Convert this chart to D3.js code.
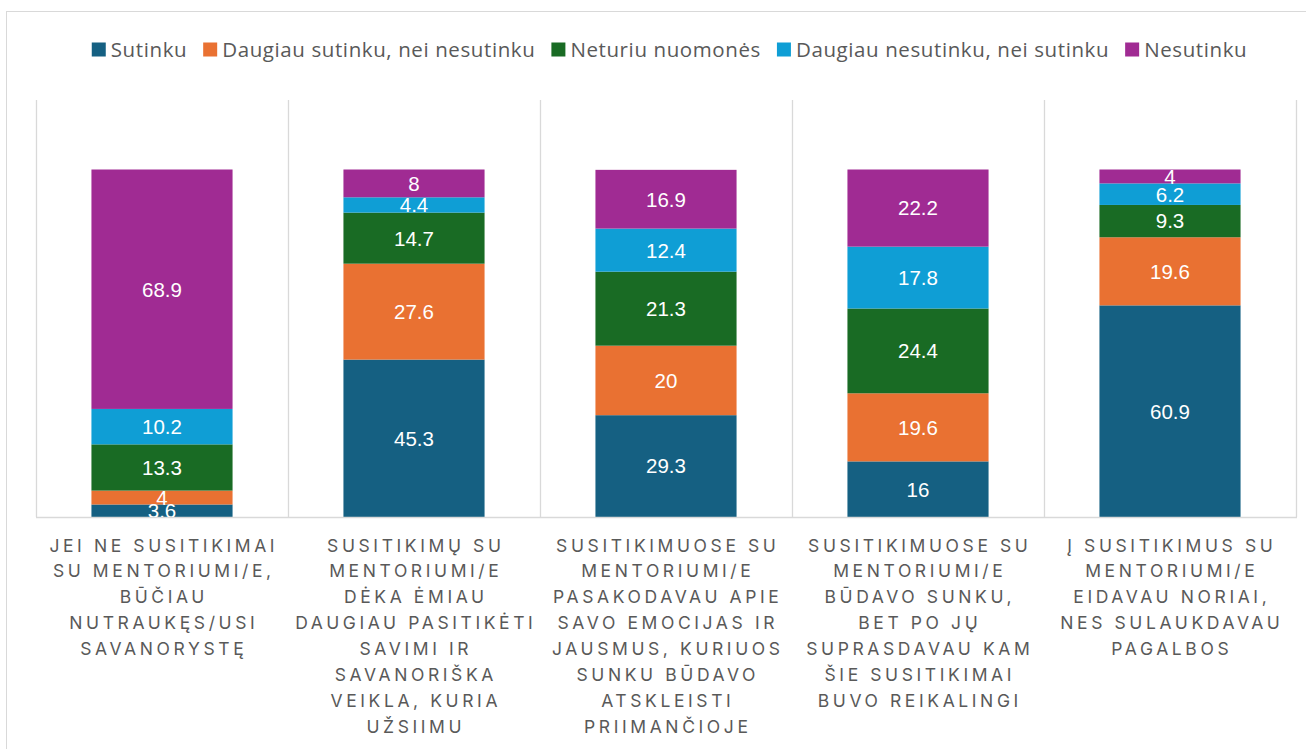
<!DOCTYPE html>
<html>
<head>
<meta charset="utf-8">
<script src="https://cdn.jsdelivr.net/npm/d3@7"></script>
<style>
  body { margin: 0; background: #fff; }
  svg { display: block; }
</style>
</head>
<body>
<svg id="chart" width="1306" height="749"></svg>
<script>
// categories, already broken into lines the way the chart shows them
const categoryLines = [
  ["JEI NE SUSITIKIMAI", "SU MENTORIUMI/E,", "BŪČIAU", "NUTRAUKĘS/USI", "SAVANORYSTĘ"],
  ["SUSITIKIMŲ SU", "MENTORIUMI/E", "DĖKA ĖMIAU", "DAUGIAU PASITIKĖTI", "SAVIMI IR", "SAVANORIŠKA", "VEIKLA, KURIA", "UŽSIIMU"],
  ["SUSITIKIMUOSE SU", "MENTORIUMI/E", "PASAKODAVAU APIE", "SAVO EMOCIJAS IR", "JAUSMUS, KURIUOS", "SUNKU BŪDAVO", "ATSKLEISTI", "PRIIMANČIOJE"],
  ["SUSITIKIMUOSE SU", "MENTORIUMI/E", "BŪDAVO SUNKU,", "BET PO JŲ", "SUPRASDAVAU KAM", "ŠIE SUSITIKIMAI", "BUVO REIKALINGI"],
  ["Į SUSITIKIMUS SU", "MENTORIUMI/E", "EIDAVAU NORIAI,", "NES SULAUKDAVAU", "PAGALBOS"]
];

const seriesNames = ["Sutinku", "Daugiau sutinku, nei nesutinku", "Neturiu nuomonės", "Daugiau nesutinku, nei sutinku", "Nesutinku"];
const seriesColors = ["#156082", "#E97132", "#196B24", "#0F9ED5", "#A02B93"];

const sutinku = [3.6, 45.3, 29.3, 16, 60.9];
const daugiauSutinku = [4, 27.6, 20, 19.6, 19.6];
const neturiu = [13.3, 14.7, 21.3, 24.4, 9.3];
const daugiauNesutinku = [10.2, 4.4, 12.4, 17.8, 6.2];
const nesutinku = [68.9, 8, 16.9, 22.2, 4];

const seriesValues = [sutinku, daugiauSutinku, neturiu, daugiauNesutinku, nesutinku];

const svg = d3.select('#chart');
const grey = "#d9d9d9";
const textGrey = "#595959";

// outer chart frame
svg.append('rect')
    .attr('x', 6.5).attr('y', 11.5)
    .attr('width', 1305).attr('height', 745)
    .attr('fill', 'none')
    .attr('stroke', grey);

const plotLeft = 36, plotRight = 1296, plotTop = 100, plotBottom = 517;

const x = d3.scaleBand()
    .domain(d3.range(categoryLines.length))
    .range([plotLeft, plotRight])
    .paddingInner(0.44)
    .paddingOuter(0.22);

const y = d3.scaleLinear().domain([0, 120]).range([plotBottom, plotTop]);

// vertical gridlines at category boundaries
const step = x.step();
const bounds = d3.range(categoryLines.length + 1).map(i => plotLeft + i * step);
svg.append('g').selectAll('line')
    .data(bounds)
    .enter().append('line')
    .attr('x1', d => Math.round(d) + 0.5).attr('x2', d => Math.round(d) + 0.5)
    .attr('y1', plotTop).attr('y2', plotBottom)
    .attr('stroke', grey).attr('stroke-width', 1.3);

// stack
const rows = categoryLines.map((c, i) => {
  const r = { i: i };
  seriesNames.forEach((s, k) => { r[s] = seriesValues[k][i]; });
  return r;
});
const stacked = d3.stack().keys(seriesNames)(rows);

svg.append('defs').append('clipPath').attr('id', 'plotclip')
  .append('rect').attr('x', plotLeft).attr('y', plotTop).attr('width', plotRight - plotLeft).attr('height', plotBottom - plotTop);

const layers = svg.append('g').selectAll('g')
    .data(stacked)
    .enter().append('g')
    .attr('fill', (d, k) => seriesColors[k]);

layers.selectAll('rect')
    .data(d => d)
    .enter().append('rect')
    .attr('x', d => x(d.data.i))
    .attr('width', x.bandwidth())
    .attr('y', d => y(d[1]))
    .attr('height', d => y(d[0]) - y(d[1]));

// bottom axis line
svg.append('line')
    .attr('x1', plotLeft).attr('x2', plotRight + 1)
    .attr('y1', plotBottom + 0.5).attr('y2', plotBottom + 0.5)
    .attr('stroke', grey).attr('stroke-width', 1.3);

// data labels (clipped to the plot area like the original)
const labels = svg.append('g').attr('clip-path', 'url(#plotclip)');
stacked.forEach(layer => {
  labels.selectAll(null)
      .data(layer)
      .enter().append('text')
      .attr('x', d => x(d.data.i) + x.bandwidth() / 2)
      .attr('y', d => (y(d[0]) + y(d[1])) / 2)
      .attr('dy', '0.36em')
      .attr('text-anchor', 'middle')
      .attr('fill', '#fff')
      .style('font-family', '"Liberation Sans", Arial, sans-serif')
      .style('font-size', '20.5px')
      .text(d => d.data[layer.key]);
});

// category labels
const cats = svg.append('g')
    .style('font-family', 'Inter, "Open Sans", sans-serif')
    .style('font-size', '17.5px')
    .style('letter-spacing', '3.6px')
    .attr('fill', textGrey);
categoryLines.forEach((lines, i) => {
  const t = cats.append('text')
      .attr('text-anchor', 'middle');
  lines.forEach((ln, j) => {
    t.append('tspan')
        .attr('x', x(i) + x.bandwidth() / 2 + 1.8)
        .attr('y', 551.5 + j * 25.9)
        .text(ln);
  });
});

// legend
const legend = svg.append('g')
    .style('font-family', '"Open Sans", "Liberation Sans", sans-serif')
    .style('font-size', '20.5px')
    .style('letter-spacing', '0.6px')
    .attr('fill', textGrey);
let lx = 0;
seriesNames.forEach((s, k) => {
  const g = legend.append('g');
  g.append('rect').attr('x', 0).attr('y', -7).attr('width', 14).attr('height', 14).attr('fill', seriesColors[k]);
  const t = g.append('text').attr('x', 19).attr('y', 0).attr('dy', '0.35em').text(s);
  const w = 19 + t.node().getComputedTextLength();
  g.attr('transform', `translate(${lx},49.5)`);
  lx += w + 16;
});
const totalW = lx - 16;
legend.attr('transform', `translate(${(87 + 1252) / 2 - totalW / 2},0)`);
</script>
</body>
</html>
